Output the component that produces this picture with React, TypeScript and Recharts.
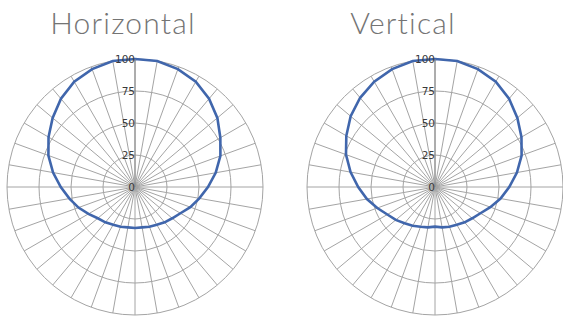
import React from "react";
import { RadarChart, Radar, PolarGrid, PolarAngleAxis, PolarRadiusAxis } from "recharts";

const angles = ["0","10","20","30","40","50","60","70","80","90","100","110","120","130","140","150","160","170","180","190","200","210","220","230","240","250","260","270","280","290","300","310","320","330","340","350"];
const horizontalValues = [100,100,98,95,90,84,77,71,64,57,51,46,41,38,36,34,33,32,32,32,33,34,36,38,42,47,52,58,65,72,78,84,90,95,98,100];
const verticalValues = [100,100,98,95,90,84,78,72,65,58,52,46,41,38,36,34,33,32,31,32,33,35,37,40,43,48,54,60,67,74,80,86,91,95,98,100];
const radiusTicks = [0, 25, 50, 75, 100];
const titles = ["Horizontal", "Vertical"];

const build = (vals: number[]) => angles.map((a, i) => ({ angle: a, value: vals[i] }));

function Polar({ values, left, cx }: { values: number[]; left: number; cx: number }) {
  return (
    <div style={{ position: "absolute", left, top: 0 }}>
      <RadarChart width={282} height={316} cx={cx} cy={187} outerRadius={128} data={build(values)} margin={{ top: 0, right: 0, bottom: 0, left: 0 }}>
        <PolarGrid gridType="circle" stroke="#a4a4a4" strokeWidth={1} />
        <PolarAngleAxis dataKey="angle" tick={false} axisLine={false} />
        <PolarRadiusAxis
          angle={90}
          domain={[0, 100]}
          ticks={radiusTicks}
          orientation="left"
          axisLine={{ stroke: "#888" }}
          tick={{ fontSize: 10.5, fill: "#3a3a3a", fontFamily: "DejaVu Sans, sans-serif", dy: 4 }}
        />
        <Radar dataKey="value" stroke="#4066ac" strokeWidth={2.6} fill="none" fillOpacity={0} isAnimationActive={false} dot={false} />
      </RadarChart>
    </div>
  );
}

export default function App() {
  return (
    <div style={{ position: "absolute", left: 0, top: 0, width: 563, height: 316, overflow: "hidden", background: "#fff" }}>
      <Polar values={horizontalValues} left={0} cx={135} />
      <Polar values={verticalValues} left={281} cx={154} />
      <div style={{ position: "absolute", left: 23, width: 200, top: 4, textAlign: "center", fontFamily: "Lato, sans-serif", fontWeight: 300, fontSize: 30, color: "#747474", letterSpacing: 1.2, lineHeight: "36px" }}>{titles[0]}</div>
      <div style={{ position: "absolute", left: 303, width: 200, top: 4, textAlign: "center", fontFamily: "Lato, sans-serif", fontWeight: 300, fontSize: 30, color: "#747474", letterSpacing: 1.2, lineHeight: "36px" }}>{titles[1]}</div>
    </div>
  );
}
